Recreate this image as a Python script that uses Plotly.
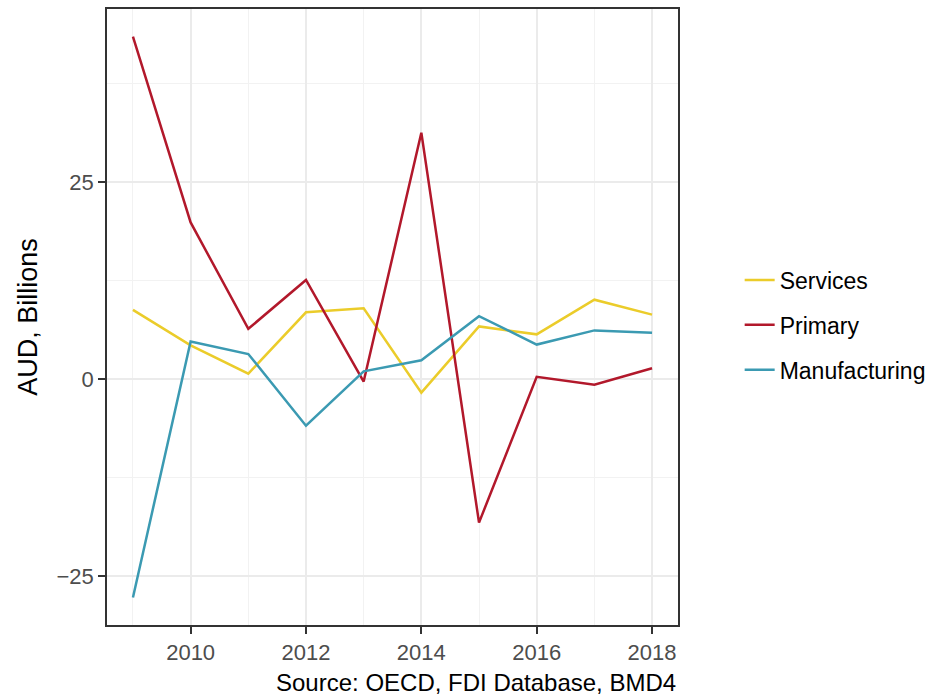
import plotly.graph_objects as go

years = [2009, 2010, 2011, 2012, 2013, 2014, 2015, 2016, 2017, 2018]
services = [8.8, 4.3, 0.7, 8.5, 9.0, -1.7, 6.7, 5.7, 10.1, 8.2]
primary = [43.5, 19.9, 6.4, 12.6, -0.3, 31.3, -18.2, 0.3, -0.7, 1.4]
manufacturing = [-27.7, 4.8, 3.2, -5.9, 1.0, 2.4, 8.0, 4.4, 6.2, 5.9]

series = [
    ("Services", services, "#EBCC2A"),
    ("Primary", primary, "#B2182B"),
    ("Manufacturing", manufacturing, "#3B9AB2"),
]

FONT = "Liberation Sans, Arial, Helvetica, sans-serif"

fig = go.Figure()
for name, vals, col in series:
    fig.add_trace(go.Scatter(
        x=years, y=vals,
        mode="lines",
        name=name,
        legendgroup=name,
        line=dict(color=col, width=2.5),
    ))

grid = "#EBEBEB"
axis_common = dict(
    showline=True, mirror=True, linecolor="#333333", linewidth=1.6,
    ticks="outside", ticklen=7, tickwidth=1.6, tickcolor="#333333",
    tickfont=dict(family=FONT, size=22, color="#4D4D4D"),
    showgrid=True, gridcolor=grid, gridwidth=1.8,
    zeroline=False,
)

fig.update_layout(
    width=944, height=696,
    paper_bgcolor="white", plot_bgcolor="white",
    margin=dict(l=107, r=266, t=7, b=71),
    font=dict(family=FONT, color="black"),
    xaxis=dict(
        range=[2008.55, 2018.45], tick0=2010, dtick=2,
        minor=dict(dtick=1, tick0=2009, showgrid=True, gridcolor="#F2F2F2", gridwidth=1, ticks=""),
        **axis_common,
    ),
    yaxis=dict(
        range=[-31.2, 47.0], tick0=0, dtick=25,
        minor=dict(dtick=12.5, tick0=0, showgrid=True, gridcolor="#F2F2F2", gridwidth=1, ticks=""),
        title=dict(text="AUD, Billions", font=dict(family=FONT, size=27, color="black"), standoff=11),
        **axis_common,
    ),
    legend=dict(
        x=1.108, y=0.487, xanchor="left", yanchor="middle",
        font=dict(family=FONT, size=23, color="black"),
        tracegroupgap=12,
        bgcolor="rgba(0,0,0,0)",
    ),
    showlegend=True,
)

fig.add_annotation(
    text="Source: OECD, FDI Database, BMD4",
    xref="paper", yref="paper", x=1.0, y=-0.094,
    xanchor="right", yanchor="middle", showarrow=False,
    font=dict(family=FONT, size=24, color="black"),
)

fig.write_html("out.html", config={"displayModeBar": False},
               post_script="document.body.style.margin='0';")
